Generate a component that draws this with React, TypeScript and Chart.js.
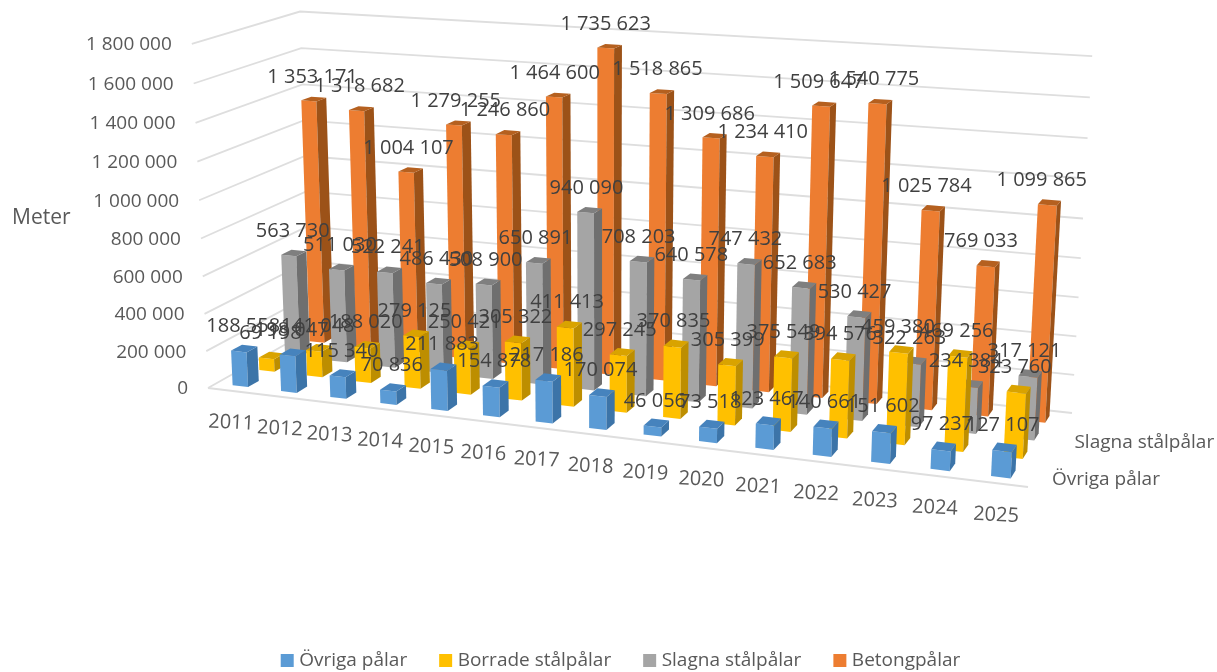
import React, { useEffect, useRef } from "react";
import { Chart, registerables, BarController } from "chart.js";

const years = ["2011","2012","2013","2014","2015","2016","2017","2018","2019","2020","2021","2022","2023","2024","2025"];
const ovriga = [188558,198047,115340,70836,211883,154878,217186,170074,46056,73518,123467,140661,151602,97237,127107];
const borrade = [69198,141048,188020,279125,250421,305322,411413,297245,370835,305399,375549,394576,459380,469256,323760];
const slagna = [563730,511030,522241,486430,508900,650891,940090,708203,640578,747432,652683,530427,322263,234384,317121];
const betong = [1353171,1318682,1004107,1279255,1246860,1464600,1735623,1518865,1309686,1234410,1509647,1540775,1025784,769033,1099865];

const FONT = '"Open Sans", "Noto Sans", sans-serif';
const BAR_W = 0.32, BAR_D = 0.4;

// camera: where the plot box's corners land
type P2 = [number, number];
const FL: P2 = [208,388], FR: P2 = [1028,487], BR: P2 = [1072,413], BL: P2 = [311,330];
const TL: P2 = [300,9], TR: P2 = [1092,60], FT: P2 = [192,43];

function solve(A: number[][], b: number[]): number[] {
  const n = b.length;
  const M = A.map((r, i) => [...r, b[i]]);
  for (let c = 0; c < n; c++) {
    let p = c;
    for (let r = c + 1; r < n; r++) if (Math.abs(M[r][c]) > Math.abs(M[p][c])) p = r;
    [M[c], M[p]] = [M[p], M[c]];
    for (let r = 0; r < n; r++) {
      if (r === c) continue;
      const f = M[r][c] / M[c][c];
      for (let k = c; k <= n; k++) M[r][k] -= f * M[c][k];
    }
  }
  return M.map((r, i) => r[n] / r[i]);
}

function makeCamera() {
  const src: [number, number, P2][] = [[0,0,FL],[1,0,FR],[1,1,BR],[0,1,BL]];
  const A: number[][] = [], b: number[] = [];
  for (const [X,Z,[u,v]] of src) {
    A.push([X,Z,1,0,0,0,-u*X,-u*Z]); b.push(u);
    A.push([0,0,0,X,Z,1,-v*X,-v*Z]); b.push(v);
  }
  const h = solve(A,b);
  const pts: [number,number,P2][] = [[0,1,TL],[1,1,TR],[0,0,FT]];
  const R: number[][] = [], q: number[] = [];
  for (const [X,Z,[u,v]] of pts) {
    const w0 = h[6]*X + h[7]*Z + 1;
    R.push([1,0,-u]); q.push(u*w0 - (h[0]*X + h[1]*Z + h[2]));
    R.push([0,1,-v]); q.push(v*w0 - (h[3]*X + h[4]*Z + h[5]));
  }
  const N = [0,1,2].map(i => [0,1,2].map(j => R.reduce((s,r) => s + r[i]*r[j], 0)));
  const m = [0,1,2].map(i => R.reduce((s,r,k) => s + r[i]*q[k], 0));
  const [a,bb,c] = solve(N,m);
  return (X: number, Y: number, Z: number): P2 => {
    const w = h[6]*X + h[7]*Z + 1 + c*Y;
    return [(h[0]*X + h[1]*Z + h[2] + a*Y)/w, (h[3]*X + h[4]*Z + h[5] + bb*Y)/w];
  };
}
const project = makeCamera();

const fmt = (v: number) => String(v).replace(/\B(?=(\d{3})+(?!\d))/g, " ");
const fracX = (chart: any, i: number) => { const s = chart.scales.x; return (s.getPixelForValue(i) - s.left) / s.width; };
const fracY = (chart: any, v: number) => { const s = chart.scales.y; return (s.bottom - s.getPixelForValue(v)) / (s.bottom - s.top); };
const nRows = 4;
const rowZ = (row: number) => (row + 0.5) / nRows;

function poly(ctx: CanvasRenderingContext2D, pts: P2[], fill: string) {
  ctx.beginPath();
  pts.forEach((p, i) => (i ? ctx.lineTo(p[0], p[1]) : ctx.moveTo(p[0], p[1])));
  ctx.closePath();
  ctx.fillStyle = fill;
  ctx.fill();
}

class Bar3DController extends BarController {
  static id = "bar3d";
  static defaults = BarController.defaults;
  static overrides = BarController.overrides;
  draw() {
    const chart: any = this.chart;
    const ctx: CanvasRenderingContext2D = chart.ctx;
    const row = this.index;
    const ds: any = this.getDataset();
    const step = 1 / ds.data.length;
    const zc = rowZ(row), dz = (BAR_D / nRows) / 2;
    ds.data.forEach((v: number, i: number) => {
      const xc = fracX(chart, i), dx = (BAR_W * step) / 2;
      const Y = fracY(chart, v);
      const x0 = xc - dx, x1 = xc + dx, z0 = zc - dz, z1 = zc + dz;
      poly(ctx, [project(x0,0,z0), project(x1,0,z0), project(x1,Y,z0), project(x0,Y,z0)], ds.backgroundColor);
      poly(ctx, [project(x1,0,z0), project(x1,0,z1), project(x1,Y,z1), project(x1,Y,z0)], ds.sideColor);
      poly(ctx, [project(x0,Y,z0), project(x1,Y,z0), project(x1,Y,z1), project(x0,Y,z1)], ds.topColor);
    });
  }
}

const walls = {
  id: "walls",
  beforeDatasetsDraw(chart: any) {
    const ctx: CanvasRenderingContext2D = chart.ctx;
    ctx.save();
    ctx.strokeStyle = "#dedede";
    ctx.lineWidth = 1.8;
    for (const t of chart.scales.y.ticks) {
      const Y = fracY(chart, t.value);
      const a = project(0,Y,0), b = project(0,Y,1), c = project(1,Y,1);
      ctx.beginPath(); ctx.moveTo(a[0],a[1]); ctx.lineTo(b[0],b[1]); ctx.lineTo(c[0],c[1]); ctx.stroke();
    }
    const f0 = project(0,0,0), f1 = project(1,0,0);
    ctx.beginPath(); ctx.moveTo(f0[0],f0[1]); ctx.lineTo(f1[0],f1[1]); ctx.stroke();
    ctx.restore();
  },
};

const texts = {
  id: "texts",
  afterDatasetsDraw(chart: any) {
    const ctx: CanvasRenderingContext2D = chart.ctx;
    ctx.save();
    ctx.textBaseline = "middle";
    // value axis
    ctx.font = `19px ${FONT}`;
    ctx.fillStyle = "#595959";
    ctx.textAlign = "right";
    for (const t of chart.scales.y.ticks) {
      const p = project(0, fracY(chart, t.value), 0);
      ctx.fillText(fmt(t.value), p[0] - 20, p[1] + 1);
    }
    ctx.textAlign = "left";
    // depth axis (every other series name)
    chart.data.datasets.forEach((ds: any, row: number) => {
      if (row % 2) return;
      const p = project(1, 0, rowZ(row));
      ctx.fillText(ds.label, p[0] + 18, p[1] + 3);
    });
    ctx.font = `21px ${FONT}`;
    ctx.fillText("Meter", 12, 218);
    // category axis
    ctx.font = `20px ${FONT}`;
    ctx.textAlign = "center";
    chart.data.labels.forEach((l: string, i: number) => {
      const p = project(fracX(chart, i), 0, 0);
      ctx.save();
      ctx.translate(p[0] - 1, p[1] + 32);
      ctx.rotate(0.05);
      ctx.fillText(l, 0, 0);
      ctx.restore();
    });
    // value labels
    ctx.fillStyle = "#404040";
    chart.data.datasets.forEach((ds: any, row: number) => {
      ds.data.forEach((v: number, i: number) => {
        const X = fracX(chart, i), Z = rowZ(row);
        const p = project(X, fracY(chart, v), Z);
        ctx.fillText(fmt(v), p[0] - 1 - 8 * X * Z, p[1] - 22);
      });
    });
    ctx.restore();
  },
};

Chart.register(...registerables, Bar3DController);

export default function App() {
  const ref = useRef<HTMLCanvasElement>(null);
  useEffect(() => {
    document.body.style.margin = "0";
    const chart = new Chart(ref.current as HTMLCanvasElement, {
      type: "bar3d" as any,
      data: {
        labels: years,
        datasets: [
          { label: "Övriga pålar", data: ovriga, backgroundColor: "#5b9bd5", sideColor: "#3c74a8", topColor: "#4683bd" },
          { label: "Borrade stålpålar", data: borrade, backgroundColor: "#ffc000", sideColor: "#bd8e00", topColor: "#d9a300" },
          { label: "Slagna stålpålar", data: slagna, backgroundColor: "#a5a5a5", sideColor: "#6f6f6f", topColor: "#7f7f7f" },
          { label: "Betongpålar", data: betong, backgroundColor: "#ed7d31", sideColor: "#9c5218", topColor: "#b5601f" },
        ] as any,
      },
      options: {
        animation: false,
        responsive: false,
        layout: { padding: { bottom: -8, left: 28 } },
        scales: {
          x: { type: "category", offset: true, display: false },
          y: { type: "linear", min: 0, max: 1800000, display: false, ticks: { stepSize: 200000 } },
        },
        plugins: {
          tooltip: { enabled: false },
          legend: {
            position: "bottom",
            labels: {
              usePointStyle: true,
              pointStyle: "rect",
              boxWidth: 5,
              boxHeight: 13,
              padding: 36,
              color: "#595959",
              font: { family: '"Open Sans", "Noto Sans", sans-serif', size: 19 },
            },
          },
        },
      } as any,
      plugins: [walls, texts],
    });
    return () => chart.destroy();
  }, []);
  return <canvas ref={ref} width={1217} height={672} style={{ display: "block" }} />;
}
